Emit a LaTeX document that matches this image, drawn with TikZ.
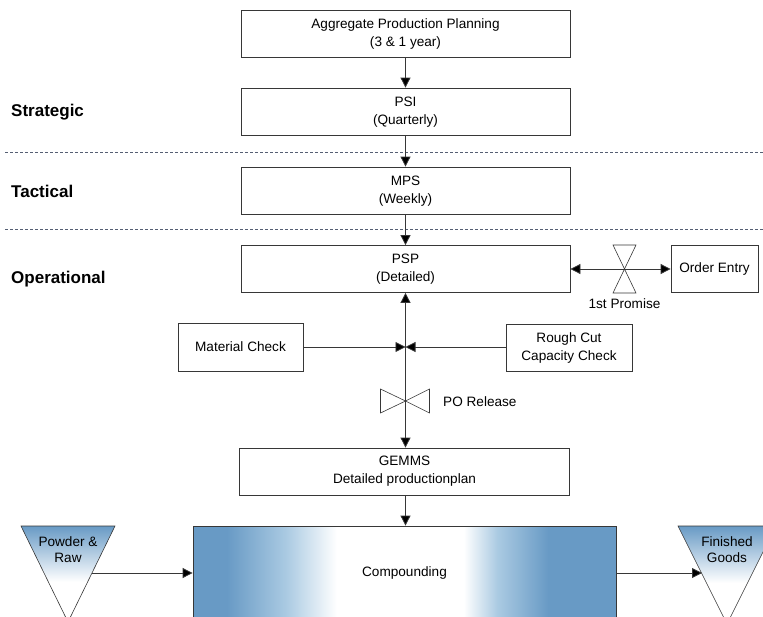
\documentclass[tikz,border=0pt]{standalone}
\usepackage{fontspec}
\setmainfont{Liberation Sans}
\usetikzlibrary{arrows.meta}

\definecolor{steel}{RGB}{104,154,197}
\definecolor{steellight}{RGB}{170,202,226}
\definecolor{edge}{RGB}{55,55,55}
\definecolor{sep}{RGB}{85,95,115}

% funnel fill: blue at the rim, fading to white towards the tip
\pgfdeclareverticalshading{funnel}{100bp}{color(0bp)=(white); color(46bp)=(white); color(75bp)=(steel); color(100bp)=(steel)}
% brushed look of the compounding block
\pgfdeclarehorizontalshading{metal}{100bp}{color(0bp)=(steel); color(29bp)=(steel); color(36bp)=(steellight); color(42bp)=(white); color(57bp)=(white); color(61bp)=(steellight); color(67bp)=(steel); color(100bp)=(steel)}

% two centred lines, set a little low in their box
\newcommand{\pairlines}[2]{\raisebox{-1.5pt}{\begin{tabular}{@{}c@{}}#1\\#2\end{tabular}}}

\begin{document}
\begin{tikzpicture}[x=1pt, y=-1pt,
  font=\fontsize{13.6}{18}\selectfont,
  tip/.tip={Triangle[length=10pt,width=10pt]},
  box/.style={draw=edge, line width=0.8pt, rectangle, inner sep=0pt, align=center, fill=white},
  flow/.style={draw=edge, line width=0.8pt, -{tip[fill=black]}},
  twoway/.style={draw=edge, line width=0.8pt, {tip[fill=black]}-{tip[fill=black]}},
  level/.style={font=\fontsize{17}{20}\selectfont\bfseries, anchor=west, inner sep=0pt},
  valve/.style={draw=edge, line width=0.6pt},
  divider/.style={draw=sep, line width=0.8pt, dash pattern=on 3pt off 2pt},
  caption/.style={inner sep=0pt, align=center}]

\useasboundingbox (0,0) rectangle (763,616);
\clip (0,0) rectangle (763,616);

% planning horizons
\node[level] (strat) at (11,112) {Strategic};
\node[level] (tact)  at (11,191) {Tactical};
\node[level] (oper)  at (11,279) {Operational};
\coordinate (d1a) at (5,152);   \coordinate (d1b) at (763,152);
\coordinate (d2a) at (5,229);   \coordinate (d2b) at (763,229);
\draw[divider] (d1a) -- (d1b);
\draw[divider] (d2a) -- (d2b);

% planning chain
\node[box, minimum width=329pt, minimum height=47pt] (app) at (405.5,33.5) {\pairlines{Aggregate Production Planning}{(3 \& 1 year)}};
\node[box, minimum width=329pt, minimum height=47pt] (psi) at (405.5,111.5) {\pairlines{PSI}{(Quarterly)}};
\node[box, minimum width=329pt, minimum height=47pt] (mps) at (405.5,190.5) {\pairlines{MPS}{(Weekly)}};
\node[box, minimum width=329pt, minimum height=47pt] (psp) at (405.5,269) {\pairlines{PSP}{(Detailed)}};
\node[box, minimum width=87pt, minimum height=47pt] (oe) at (714.5,269) {Order Entry};

\draw[flow] (app.south) -- (psi.north);
\draw[flow] (psi.south) -- (mps.north);
\draw[flow] (mps.south) -- (psp.north);

% first promise
\coordinate (prom) at (624.5,269);
\draw[twoway] (psp.east) -- (oe.west);
\begin{scope}[shift={(prom)}]
  \draw[valve] (-11.5,-24) -- (11.5,-24) -- (0,0) -- cycle;
  \draw[valve] (-11.5,24) -- (11.5,24) -- (0,0) -- cycle;
\end{scope}
\node[caption] (promtxt) at (624.5,304) {1st Promise};

% checks feeding the release decision
\node[box, minimum width=125pt, minimum height=48pt] (mc) at (240.5,347) {Material Check};
\node[box, minimum width=126pt, minimum height=47pt] (rc) at (569,347.5) {Rough Cut\\Capacity Check};
\coordinate (jn) at (405.5,347);
\draw[flow] (mc.east) -- (jn);
\draw[flow] (rc.west |- jn) -- (jn);
\draw[flow] (jn) -- (psp.south);

\node[box, minimum width=330pt, minimum height=47pt] (gemms) at (404.5,471.5) {GEMMS\\Detailed productionplan};
\draw[flow] (jn) -- (jn |- gemms.north);

% purchase order release
\coordinate (po) at (405.5,401);
\begin{scope}[shift={(po)}]
  \draw[valve] (-25,-12) -- (-25,12) -- (0,0) -- cycle;
  \draw[valve] (24,-12) -- (24,12) -- (0,0) -- cycle;
\end{scope}
\node[caption, anchor=west] (potxt) at (443,402) {PO Release};

% shop floor
\node[box, shade, shading=metal, minimum width=423pt, minimum height=94pt] (comp) at (404.5,573) {Compounding};
\draw[flow] (gemms.south -| jn) -- (jn |- comp.north);

\shadedraw[shading=funnel, draw=edge, line width=0.6pt] (21,526) -- (115,526) -- (68,622) -- cycle;
\node[caption, font=\fontsize{13.6}{16}\selectfont] (raw) at (68,550) {Powder \&\\Raw};
\coordinate (rawout) at (92,573);
\draw[flow] (rawout) -- (comp.west);

\shadedraw[shading=funnel, draw=edge, line width=0.6pt] (678,526) -- (776,526) -- (727,624) -- cycle;
\node[caption, font=\fontsize{13.6}{16}\selectfont] (fg) at (727,550) {Finished\\Goods};
\coordinate (fgin) at (702,573);
\draw[flow] (comp.east) -- (fgin);

\end{tikzpicture}
\end{document}
